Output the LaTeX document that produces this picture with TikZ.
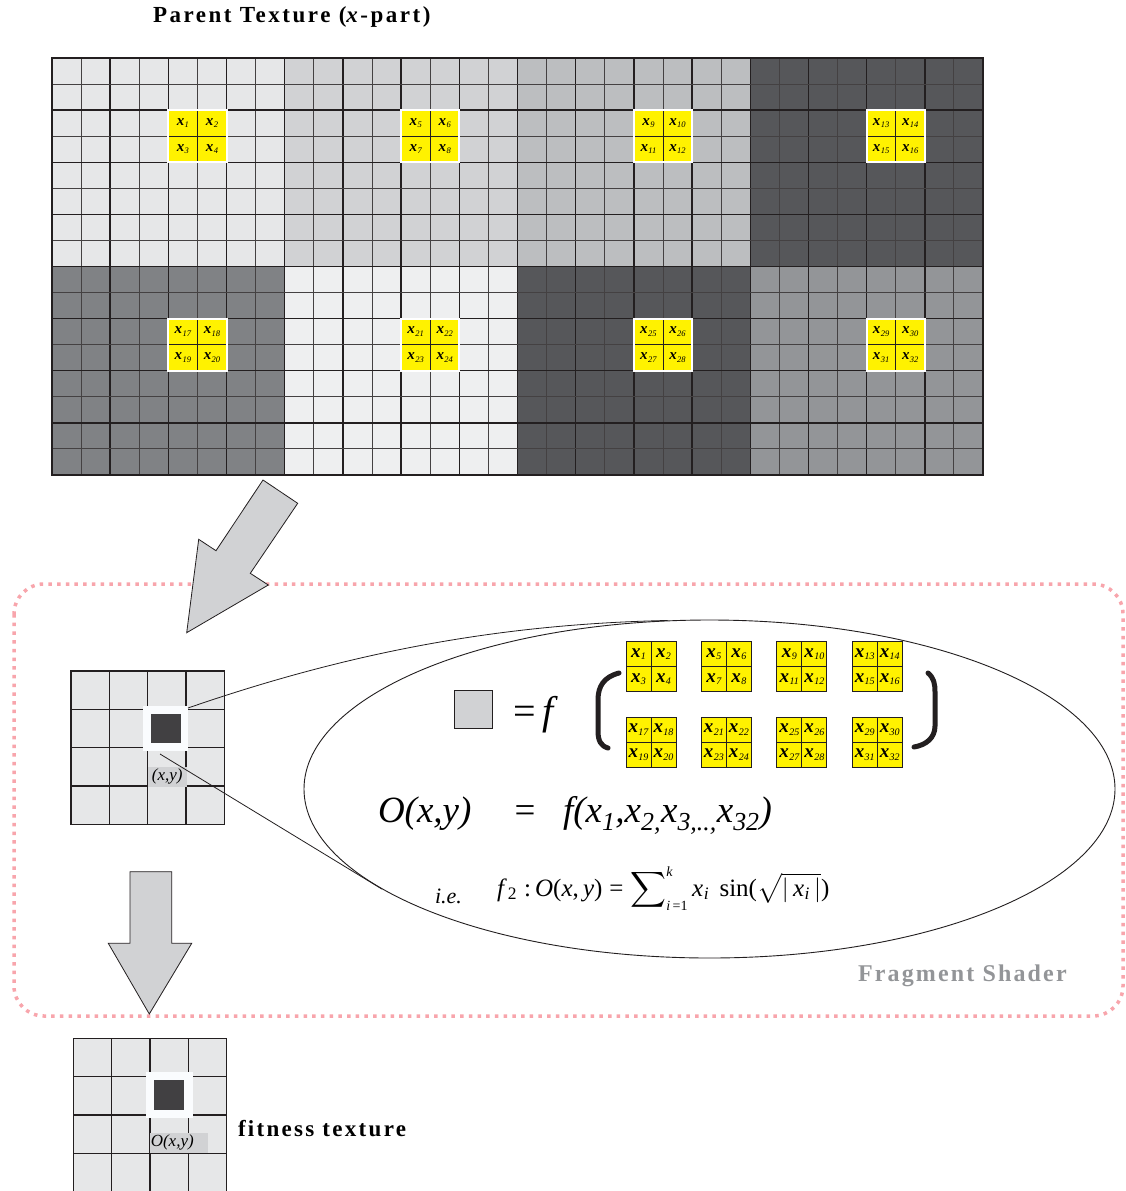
\documentclass[tikz,border=0pt]{standalone}
\usepackage{exscale}
\usepackage{fontspec}
\setmainfont{Liberation Serif}
\newfontfamily\headfont[LetterSpace=11]{Liberation Serif}
\newfontfamily\fitfont[LetterSpace=10]{Liberation Serif}
\newfontfamily\shadefont[LetterSpace=9]{Liberation Serif}
\usetikzlibrary{shapes.geometric,calc}
\definecolor{yel}{HTML}{FFF200}
\definecolor{gA}{HTML}{E6E7E8}
\definecolor{gB}{HTML}{D1D2D4}
\definecolor{gC}{HTML}{BCBEC0}
\definecolor{gD}{HTML}{56575A}
\definecolor{gE}{HTML}{808285}
\definecolor{gF}{HTML}{EEEFF0}
\definecolor{gH}{HTML}{939598}
\definecolor{arrowgray}{HTML}{D1D2D4}
\definecolor{darkcell}{HTML}{414042}
\definecolor{hlwhite}{HTML}{FAFCFE}
\definecolor{framepink}{HTML}{F8A5AC}
\definecolor{shadertext}{HTML}{939598}
\definecolor{ink}{HTML}{231F20}
\newcommand{\xlab}[3]{{\fontsize{#2}{#2}\selectfont\bfseries\itshape x}\kern0.4pt\raisebox{-0.25em}{\fontsize{#3}{#3}\selectfont\itshape #1}}
\newcommand{\smit}[1]{\mbox{\fontsize{14}{14}\selectfont #1}}
\tikzset{
  oddline/.style={line width=0.9pt, ink!85},
  evenline/.style={line width=1.4pt, ink},
  cellline/.style={line width=1.1pt, ink},
  bigarrow/.style={fill=arrowgray, draw=ink, line width=0.8pt, line join=miter},
  lab/.style={inner sep=0pt, outer sep=0pt},
  framedots/.style={draw=framepink, line width=3.5pt, dash pattern=on 3.5pt off 5.2pt, rounded corners=30pt},
}
\begin{document}
\begin{tikzpicture}[x=1pt,y=-1pt]
\useasboundingbox (0,0) rectangle (1125,1191);
\fill[white] (0,0) rectangle (1125,1191);

% ---------------- Parent texture ----------------
\node[lab, anchor=base west] (title) at (153,23) {\fontsize{23}{23}\selectfont\headfont\bfseries Parent Texture (\textit{x}-part)};

\def\cw{29.09375}
\def\ch{26.0625}
\foreach \col [count=\b from 0] in {gA,gB,gC,gD} {
  \fill[\col] ({52+\b*8*\cw},58) rectangle ++({8*\cw},{8*\ch});
}
\foreach \col [count=\b from 0] in {gE,gF,gD,gH} {
  \fill[\col] ({52+\b*8*\cw},{58+8*\ch}) rectangle ++({8*\cw},{8*\ch});
}
\foreach \i in {1,...,31} {
  \pgfmathtruncatemacro\ev{mod(\i,2)}
  \ifnum\ev=0
    \draw[evenline] ({52+\i*\cw},58) -- ({52+\i*\cw},475);
  \else
    \draw[oddline] ({52+\i*\cw},58) -- ({52+\i*\cw},475);
  \fi
}
\foreach \j in {1,...,15} {
  \pgfmathtruncatemacro\ev{mod(\j,2)}
  \ifnum\ev=0
    \draw[evenline] (52,{58+\j*\ch}) -- (983,{58+\j*\ch});
  \else
    \draw[oddline] (52,{58+\j*\ch}) -- (983,{58+\j*\ch});
  \fi
}
\draw[line width=2pt, ink] (52,58) rectangle (983,475);

\foreach \r in {0,1} {
  \foreach \b in {0,1,2,3} {
    \pgfmathsetmacro\xa{52+(8*\b+4)*\cw}
    \pgfmathsetmacro\ya{58+(8*\r+2)*\ch}
    \pgfmathtruncatemacro\k{4*(4*\r+\b)}
    \pgfmathtruncatemacro\na{\k+1}
    \pgfmathtruncatemacro\nb{\k+2}
    \pgfmathtruncatemacro\nc{\k+3}
    \pgfmathtruncatemacro\nd{\k+4}
    \fill[yel] (\xa,\ya) rectangle ++({2*\cw},{2*\ch});
    \draw[line width=0.9pt, ink] ({\xa+\cw},\ya) -- ++(0,{2*\ch});
    \draw[line width=0.9pt, ink] (\xa,{\ya+\ch}) -- ++({2*\cw},0);
    \draw[white, line width=2pt] (\xa,\ya) rectangle ++({2*\cw},{2*\ch});
    \node[lab] (tx\na) at ({\xa+0.5*\cw},{\ya+0.5*\ch}) {\xlab{\na}{15}{8.5}};
    \node[lab] (tx\nb) at ({\xa+1.5*\cw},{\ya+0.5*\ch}) {\xlab{\nb}{15}{8.5}};
    \node[lab] (tx\nc) at ({\xa+0.5*\cw},{\ya+1.5*\ch}) {\xlab{\nc}{15}{8.5}};
    \node[lab] (tx\nd) at ({\xa+1.5*\cw},{\ya+1.5*\ch}) {\xlab{\nd}{15}{8.5}};
  }
}

% ---------------- Fragment shader frame ----------------
\draw[framedots] (14,584) rectangle (1123,1016);
\node[lab, anchor=base west, text=shadertext] (shader) at (858,981) {\fontsize{24}{24}\selectfont\shadefont\bfseries Fragment Shader};

% arrow 1
\draw[bigarrow] (263,480) -- (297.7,503.3) -- (250.3,573.3) -- (268.3,585) -- (186.7,632.7) -- (198.7,539.3) -- (216,550.7) -- cycle;

% ---------------- middle grid ----------------
\def\gc{38.33}
\fill[gA] (71,671) rectangle ++({4*\gc},{4*\gc});
\foreach \i in {1,2,3} {
  \draw[cellline] ({71+\i*\gc},671) -- ++(0,{4*\gc});
  \draw[cellline] (71,{671+\i*\gc}) -- ++({4*\gc},0);
}
\draw[cellline] (71,671) rectangle ++({4*\gc},{4*\gc});
\fill[hlwhite] (142.7,705.7) rectangle (187.7,750.7);
\node[lab, fill=darkcell, minimum width=30pt, minimum height=29.3pt] (pix) at (166,728.6) {};
\node[lab, fill=arrowgray, minimum width=39.3pt, minimum height=20pt] (xylab) at (167.3,776.7) {\fontsize{17}{17}\selectfont\itshape (x,y)};
\coordinate (l1s) at (188,708);
\coordinate (l2s) at (160,754);

% ---------------- ellipse ----------------
\node[draw=ink, ellipse, line width=0.9pt, minimum width=811pt, minimum height=338pt, inner sep=0pt] (ell) at (709.5,789) {};
\draw[line width=0.8pt, ink] (l1s) .. controls (350,652) and (500,624) .. (ell.104);
\draw[line width=0.8pt, ink] (l2s) -- (ell.197);

\node[draw=ink, fill=arrowgray, line width=0.9pt, minimum size=38.3pt, inner sep=0pt] (gsq) at (473.2,709.5) {};
\node[lab, anchor=base west] (eqf) at (513,724) {\fontsize{40}{40}\selectfont =\kern7pt\textit{f}};

\draw[line width=5pt, ink, line cap=round] (619,673) .. controls (604,677) and (598,686) .. (598,700) -- (598,731) .. controls (598,741) and (601,746) .. (608,748);
\draw[line width=5pt, ink, line cap=round] (928,673) .. controls (934,678) and (935,684) .. (935,692) -- (935,726) .. controls (935,738) and (926,745) .. (914,747);

\foreach \r/\yy in {0/641.7,1/717.3} {
  \foreach \b in {0,1,2,3} {
    \pgfmathsetmacro\xa{626+75.4*\b}
    \pgfmathtruncatemacro\k{4*(4*\r+\b)}
    \pgfmathtruncatemacro\na{\k+1}
    \pgfmathtruncatemacro\nb{\k+2}
    \pgfmathtruncatemacro\nc{\k+3}
    \pgfmathtruncatemacro\nd{\k+4}
    \fill[yel] (\xa,\yy) rectangle ++(50,50);
    \draw[line width=0.9pt, ink] ({\xa+25},\yy) -- ++(0,50);
    \draw[line width=0.9pt, ink] (\xa,{\yy+25}) -- ++(50,0);
    \draw[line width=1pt, ink] (\xa,\yy) rectangle ++(50,50);
    \node[lab] (sx\na) at ({\xa+12.5},{\yy+12.5}) {\xlab{\na}{19}{10}};
    \node[lab] (sx\nb) at ({\xa+37.5},{\yy+12.5}) {\xlab{\nb}{19}{10}};
    \node[lab] (sx\nc) at ({\xa+12.5},{\yy+37.5}) {\xlab{\nc}{19}{10}};
    \node[lab] (sx\nd) at ({\xa+37.5},{\yy+37.5}) {\xlab{\nd}{19}{10}};
  }
}

\node[lab, anchor=base west] (oxy) at (378,822) {\fontsize{37}{37}\selectfont\itshape O(x,y)};
\node[lab, anchor=base] (eqs) at (525,822) {\fontsize{37}{37}\selectfont =};
\node[lab, anchor=base west] (fxs) at (563,822) {\fontsize{37}{37}\selectfont\itshape f(x\textsubscript{1},x\textsubscript{2,}x\textsubscript{3,..,}x\textsubscript{32})};

\node[lab, anchor=base west] (ie) at (435,903) {\fontsize{22}{22}\selectfont\itshape i.e.};
\node[lab, anchor=base west] (form) at (497,896) {\fontsize{25}{25}\selectfont \textit{f}\kern1pt\textsubscript{2}\;:\,\textit{O}(\textit{x},\,\textit{y})\;=\;$\displaystyle\sum\nolimits_{\smit{\textit{i}\,=1}}^{\smit{\textit{k}}}$\,\textit{x}\kern0.5pt\textsubscript{\textit{i}}\ \,sin($\sqrt{|\mbox{\,\textit{x}\kern0.5pt\textsubscript{\textit{i}}}\,|}$)};

% arrow 2
\draw[bigarrow] (130,871.7) -- (171.7,871.7) -- (171.7,943.3) -- (191.7,943.3) -- (149.3,1014) -- (108.3,943.3) -- (130,943.3) -- cycle;

% ---------------- fitness texture grid ----------------
\fill[gA] (73.3,1038.3) rectangle ++({4*\gc},{4*\gc});
\foreach \i in {1,2,3} {
  \draw[cellline] ({73.3+\i*\gc},1038.3) -- ++(0,{4*\gc});
  \draw[cellline] (73.3,{1038.3+\i*\gc}) -- ++({4*\gc},0);
}
\draw[cellline] (73.3,1038.3) rectangle ++({4*\gc},{4*\gc});
\fill[hlwhite] (146,1072.3) rectangle (192.7,1118.3);
\node[lab, fill=darkcell, minimum width=30pt, minimum height=30pt] (fpix) at (169.3,1095) {};
\node[lab, fill=arrowgray, minimum width=57.7pt, minimum height=20pt, text width=56pt, align=left] (oxylab) at (178.8,1142.7) {\fontsize{17}{17}\selectfont\itshape O(x,y)};
\node[lab, anchor=base west] (fit) at (238,1136) {\fontsize{23}{23}\selectfont\fitfont\bfseries fitness texture};
\end{tikzpicture}
\end{document}
